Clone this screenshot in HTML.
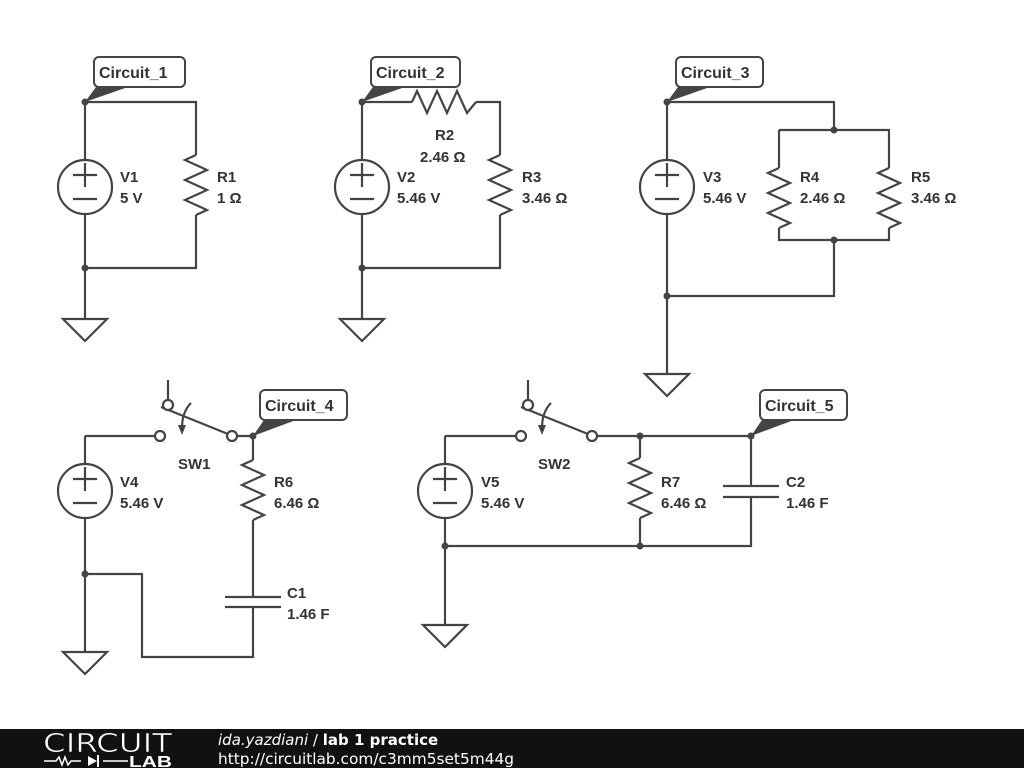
<!DOCTYPE html>
<html><head><meta charset="utf-8"><style>
html,body{margin:0;padding:0;background:#fff;width:1024px;height:768px;overflow:hidden}
svg{display:block}
text{font-family:"Liberation Sans",Arial,sans-serif;fill:#333}
.b{font-weight:bold;font-size:15px}
</style></head><body>
<svg width="1024" height="768" viewBox="0 0 1024 768" xmlns="http://www.w3.org/2000/svg">
<defs>
<g id="rv"><path d="M0,0 l-11,5 l22,10 l-22,10 l22,10 l-22,10 l22,10 l-11,5" fill="none"/></g>
<g id="src"><circle cx="0" cy="0" r="27" fill="#fff"/><path d="M-12,-12 h24 M0,-24 v24 M-12,12 h24" fill="none"/></g>
<g id="gnd"><path d="M-22,0 h44 l-22,22 z" fill="#fff"/></g>
</defs>
<g stroke="#444" stroke-width="2.2" fill="none">
<path d="M85,102 H196 V155 M196,215 V268 H85 M85,102 V160 M85,214 V319"/>
<use href="#rv" x="196" y="155"/>
<use href="#src" x="85" y="187"/>
<use href="#gnd" x="85" y="319"/>
<path d="M362,102 H412 M476,102 H500 V155 M500,215 V268 H362 M362,102 V160 M362,214 V319"/>
<path d="M412,102 l5,-11 l10,22 l10,-22 l10,22 l10,-22 l10,22 l9,-11"/>
<use href="#rv" x="500" y="155"/>
<use href="#src" x="362" y="187"/>
<use href="#gnd" x="362" y="319"/>
<path d="M667,102 H834 V130 M779,130 H889 V168 M779,130 V168 M779,228 V240 H889 V228 M834,240 V296 H667 M667,102 V160 M667,214 V374"/>
<use href="#rv" x="779" y="168"/>
<use href="#rv" x="889" y="168"/>
<use href="#src" x="667" y="187"/>
<use href="#gnd" x="667" y="374"/>
<path d="M85,436 H155 M85,436 V464 M85,518 V652 M85,574 H142 V657 H253 V607 M253,597 V520 M253,460 V436 H237"/>
<use href="#rv" x="253" y="460"/>
<use href="#src" x="85" y="491"/>
<use href="#gnd" x="85" y="652"/>
<path d="M225,597 H281 M225,607 H281"/>
<path d="M168,380 V400 M161,407 L228,434"/>
<circle cx="168" cy="405" r="5" fill="#fff"/>
<circle cx="160" cy="436" r="5" fill="#fff"/>
<circle cx="232" cy="436" r="5" fill="#fff"/>
<path d="M191,403 Q182,412 182,428"/>
<path d="M445,436 H516 M445,436 V464 M445,518 V625 M597,436 H751 V486 M751,497 V546 H445 M640,436 V458 M640,518 V546"/>
<use href="#rv" x="640" y="458"/>
<use href="#src" x="445" y="491"/>
<use href="#gnd" x="445" y="625"/>
<path d="M723,486 H779 M723,497 H779"/>
<path d="M528,380 V400 M521,407 L588,434"/>
<circle cx="528" cy="405" r="5" fill="#fff"/>
<circle cx="521" cy="436" r="5" fill="#fff"/>
<circle cx="592" cy="436" r="5" fill="#fff"/>
<path d="M551,403 Q542,412 542,428"/>
</g>
<g fill="#444">
<path d="M178,425 l4,10 l4,-10 z"/>
<path d="M538,425 l4,10 l4,-10 z"/>
<circle cx="85" cy="102" r="3.5"/><circle cx="85" cy="268" r="3.5"/>
<circle cx="362" cy="102" r="3.5"/><circle cx="362" cy="268" r="3.5"/>
<circle cx="667" cy="102" r="3.5"/><circle cx="834" cy="130" r="3.5"/><circle cx="834" cy="240" r="3.5"/><circle cx="667" cy="296" r="3.5"/>
<circle cx="253" cy="436" r="3.5"/><circle cx="85" cy="574" r="3.5"/>
<circle cx="640" cy="436" r="3.5"/><circle cx="751" cy="436" r="3.5"/><circle cx="640" cy="546" r="3.5"/><circle cx="445" cy="546" r="3.5"/>
<path d="M85,102 L96,87 L128,87 Z"/>
<path d="M362,102 L373,87 L405,87 Z"/>
<path d="M667,102 L678,87 L710,87 Z"/>
<path d="M253,436 L264,420 L296,420 Z"/>
<path d="M751,436 L762,420 L794,420 Z"/>
</g>
<g fill="#fff" stroke="#444" stroke-width="2">
<rect x="94" y="57" width="91" height="30" rx="5"/>
<rect x="371" y="57" width="89" height="30" rx="5"/>
<rect x="676" y="57" width="87" height="30" rx="5"/>
<rect x="260" y="390" width="87" height="30" rx="5"/>
<rect x="760" y="390" width="87" height="30" rx="5"/>
</g>
<g>
<text x="99" y="78" class="b" style="font-size:16px">Circuit_1</text>
<text x="376" y="78" class="b" style="font-size:16px">Circuit_2</text>
<text x="681" y="78" class="b" style="font-size:16px">Circuit_3</text>
<text x="265" y="411" class="b" style="font-size:16px">Circuit_4</text>
<text x="765" y="411" class="b" style="font-size:16px">Circuit_5</text>
<text x="120" y="182" class="b">V1</text><text x="120" y="203" class="b">5 V</text>
<text x="217" y="182" class="b">R1</text><text x="217" y="203" class="b">1 Ω</text>
<text x="435" y="140" class="b">R2</text><text x="420" y="162" class="b">2.46 Ω</text>
<text x="397" y="182" class="b">V2</text><text x="397" y="203" class="b">5.46 V</text>
<text x="522" y="182" class="b">R3</text><text x="522" y="203" class="b">3.46 Ω</text>
<text x="703" y="182" class="b">V3</text><text x="703" y="203" class="b">5.46 V</text>
<text x="800" y="182" class="b">R4</text><text x="800" y="203" class="b">2.46 Ω</text>
<text x="911" y="182" class="b">R5</text><text x="911" y="203" class="b">3.46 Ω</text>
<text x="178" y="469" class="b">SW1</text>
<text x="120" y="487" class="b">V4</text><text x="120" y="508" class="b">5.46 V</text>
<text x="274" y="487" class="b">R6</text><text x="274" y="508" class="b">6.46 Ω</text>
<text x="287" y="598" class="b">C1</text><text x="287" y="619" class="b">1.46 F</text>
<text x="538" y="469" class="b">SW2</text>
<text x="481" y="487" class="b">V5</text><text x="481" y="508" class="b">5.46 V</text>
<text x="661" y="487" class="b">R7</text><text x="661" y="508" class="b">6.46 Ω</text>
<text x="786" y="487" class="b">C2</text><text x="786" y="508" class="b">1.46 F</text>
</g>
<rect x="0" y="729" width="1024" height="39" fill="#111"/>
<text x="43" y="752" textLength="129" lengthAdjust="spacingAndGlyphs" style="fill:#fff;font-size:26px;font-weight:normal;font-family:'DejaVu Sans',sans-serif;font-stretch:condensed" stroke="#111" stroke-width="0.6">CIRCUIT</text>
<path d="M44,761 h12 l3,-4 l3,8 l3,-8 l3,8 l3,-4 h10 M103,761 h25" stroke="#fff" stroke-width="1.5" fill="none"/>
<path d="M88,756 l9,5 l-9,5 z" fill="#fff"/><path d="M98,755 v12" stroke="#fff" stroke-width="2"/>
<text x="129" y="767" textLength="43" lengthAdjust="spacingAndGlyphs" style="fill:#fff;font-size:16px;font-weight:bold">LAB</text>
<text x="218" y="745" style="fill:#fff;font-size:15px;font-family:'DejaVu Sans',sans-serif"><tspan font-style="italic">ida.yazdiani</tspan> / <tspan font-weight="bold">lab 1 practice</tspan></text>
<text x="218" y="764" textLength="296" lengthAdjust="spacingAndGlyphs" style="fill:#fff;font-size:15px;font-family:'DejaVu Sans',sans-serif">http://circuitlab.com/c3mm5set5m44g</text>
</svg>
</body></html>
